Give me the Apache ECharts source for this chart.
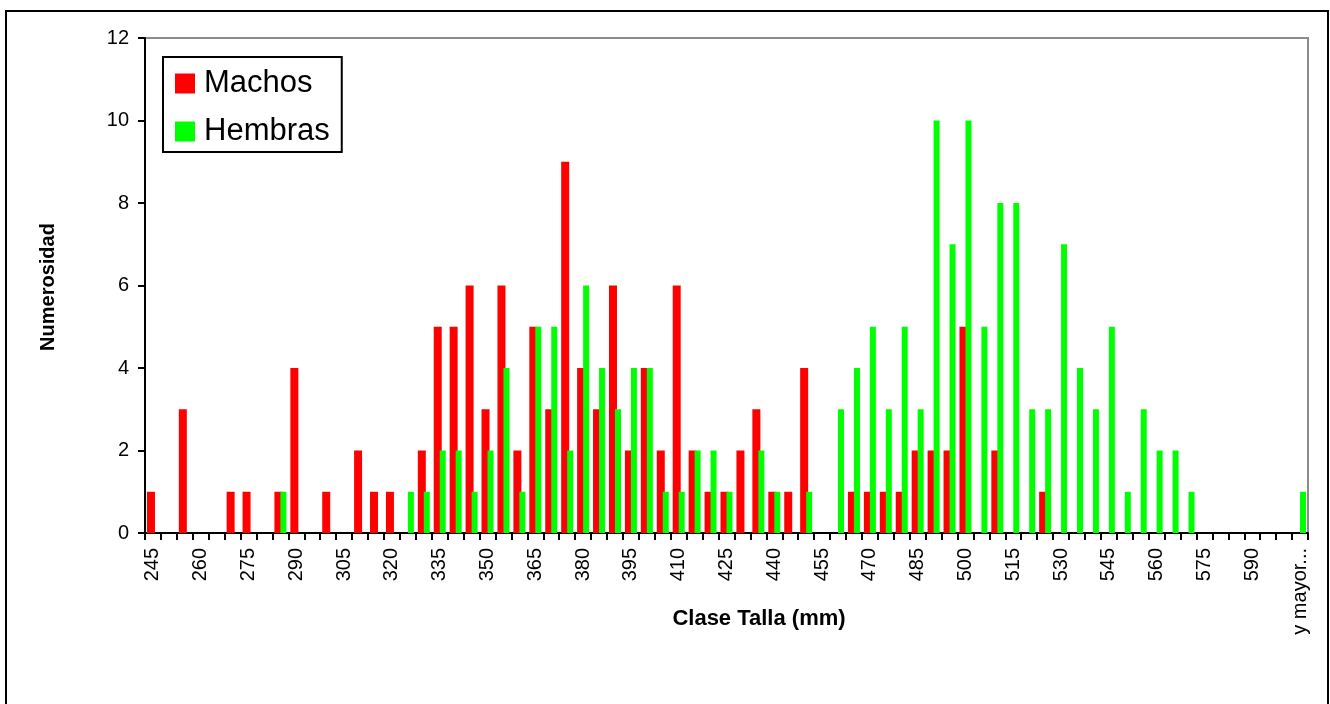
<!DOCTYPE html>
<html>
<head>
<meta charset="utf-8">
<title>Clase Talla</title>
<script src="https://cdn.jsdelivr.net/npm/echarts@6/dist/echarts.min.js"></script>
<style>
  html, body { margin: 0; padding: 0; background: #fff; }
  #chart { width: 1330px; height: 704px; }
</style>
</head>
<body>
<div id="chart"></div>
<script>
// Size classes (mm); the last class collects everything above 600
const categories = [
  '245','250','255','260','265','270','275','280','285','290',
  '295','300','305','310','315','320','325','330','335','340',
  '345','350','355','360','365','370','375','380','385','390',
  '395','400','405','410','415','420','425','430','435','440',
  '445','450','455','460','465','470','475','480','485','490',
  '495','500','505','510','515','520','525','530','535','540',
  '545','550','555','560','565','570','575','580','585','590',
  '595','600','y mayor...'
];

// Counts per size class
const machos = [
  1,0,3,0,0,1,1,0,1,4,
  0,1,0,2,1,1,0,2,5,5,
  6,3,6,2,5,3,9,4,3,6,
  2,4,2,6,2,1,1,2,3,1,
  1,4,0,0,1,1,1,1,2,2,
  2,5,0,2,0,0,1,0,0,0,
  0,0,0,0,0,0,0,0,0,0,
  0,0,0
];
const hembras = [
  0,0,0,0,0,0,0,0,1,0,
  0,0,0,0,0,0,1,1,2,2,
  1,2,4,1,5,5,2,6,4,3,
  4,4,1,1,2,2,1,0,2,1,
  0,1,0,3,4,5,3,5,3,10,
  7,10,5,8,8,3,3,7,4,3,
  5,1,3,2,2,1,0,0,0,0,
  0,0,1
];

const yTicks = { min: 0, max: 12, interval: 2 };

const FONT = 'Arial, "Liberation Sans", sans-serif';

const chart = echarts.init(document.getElementById('chart'), null, { renderer: 'canvas' });

chart.setOption({
  animation: false,
  backgroundColor: '#fff',
  textStyle: { fontFamily: FONT, color: '#000' },
  grid: {
    left: 145, right: 22, top: 38, bottom: 171,
    show: true, borderColor: '#8c8c8c', borderWidth: 2, backgroundColor: 'transparent'
  },
  legend: {
    orient: 'vertical',
    left: 163, top: 57,
    data: ['Machos', 'Hembras'],
    icon: 'rect',
    itemWidth: 20, itemHeight: 20,
    itemGap: 17,
    padding: [11, 12, 5, 12],
    borderColor: '#000', borderWidth: 2,
    backgroundColor: '#fff',
    textStyle: { fontSize: 31, lineHeight: 31, color: '#000', fontFamily: FONT, padding: [0, 0, 0, 4] }
  },
  xAxis: {
    type: 'category',
    data: categories,
    boundaryGap: true,
    axisLine: { lineStyle: { color: '#000', width: 2 } },
    axisTick: { show: true, interval: 0, alignWithLabel: false, length: 7, lineStyle: { color: '#000', width: 2 } },
    axisLabel: { interval: 2, rotate: 90, margin: 15, fontSize: 20, color: '#000', fontFamily: FONT },
    splitLine: { show: false }
  },
  yAxis: {
    type: 'value',
    min: yTicks.min, max: yTicks.max, interval: yTicks.interval,
    axisLine: { show: true, lineStyle: { color: '#000', width: 2 } },
    axisTick: { show: true, length: 7, lineStyle: { color: '#000', width: 2 } },
    axisLabel: { margin: 16, fontSize: 20, color: '#000', fontFamily: FONT },
    splitLine: { show: false }
  },
  series: [
    {
      name: 'Machos', type: 'bar', data: machos,
      barWidth: 8, barGap: '-25%',
      itemStyle: { color: '#ff0000' }
    },
    {
      name: 'Hembras', type: 'bar', data: hembras,
      barWidth: 6,
      itemStyle: { color: '#00ff00' }
    }
  ],
  graphic: [
    {
      type: 'rect', silent: true, z: 100,
      shape: { x: 6, y: 11, width: 1322, height: 760 },
      style: { fill: 'none', stroke: '#000', lineWidth: 2 }
    },
    {
      type: 'text', silent: true,
      x: 759, y: 619,
      style: {
        text: 'Clase Talla (mm)', font: 'bold 22px ' + FONT, fill: '#000',
        textAlign: 'center', textVerticalAlign: 'middle'
      }
    },
    {
      type: 'text', silent: true,
      x: 48, y: 287, rotation: Math.PI / 2,
      style: {
        text: 'Numerosidad', font: 'bold 20px ' + FONT, fill: '#000',
        textAlign: 'center', textVerticalAlign: 'middle'
      }
    }
  ]
});
</script>
</body>
</html>
